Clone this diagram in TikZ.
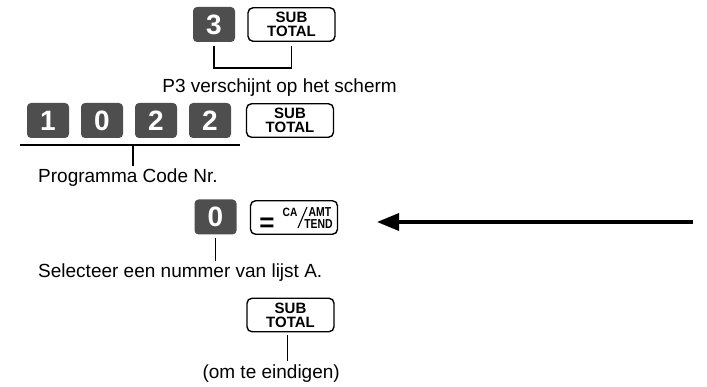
\documentclass[tikz,border=0pt]{standalone}
\usepackage{fontspec}
\setmainfont{Liberation Sans}
\usetikzlibrary{arrows.meta,calc}
\definecolor{keygray}{RGB}{78,78,78}
\begin{document}
\begin{tikzpicture}[x=1pt,y=-1pt,
  keybox/.style={fill=keygray, rounded corners=4pt, minimum width=42pt, minimum height=35pt, inner sep=0pt, text=white, font=\fontsize{28}{28}\selectfont\bfseries},
  whitekey/.style={draw, line width=1.4pt, rounded corners=5pt, minimum width=87pt, minimum height=33.5pt, inner sep=0pt, align=center, font=\fontsize{15}{14}\selectfont\bfseries},
  conn/.style={line width=1.2pt},
  lbl/.style={font=\fontsize{19}{22}\selectfont, inner sep=0pt},
  small/.style={inner sep=0pt, font=\fontsize{13}{13}\selectfont\bfseries}
]
\useasboundingbox (0,0) rectangle (707,387);
% Row 1
\node[keybox] (k3) at (214,24.5) {3};
\node[whitekey] (st1) at (291.5,24.5) {SUB\\TOTAL};
\coordinate (br1) at (214,68);
\draw[conn] ([yshift=-4pt]k3.south) -- (k3.south |- br1) -| ([yshift=-4pt]st1.south);
\node[lbl, anchor=base east] (t1) at (397,93) {P3 verschijnt op het scherm};
% Row 2
\node[keybox] (r1) at (48,120.5) {1};
\node[keybox] (r2) at (102,120.5) {0};
\node[keybox] (r3) at (156,120.5) {2};
\node[keybox] (r4) at (210,120.5) {2};
\node[whitekey] (st2) at (290,120.5) {SUB\\TOTAL};
\coordinate (la) at (20,145);
\coordinate (lb) at (240,145);
\coordinate (lm) at (133,145);
\draw[conn] (la) -- (lb);
\node[lbl, anchor=base west] (t2) at (38,183) {Programma Code Nr.};
\draw[conn] (lm) -- ([yshift=3pt]lm |- t2.north);
% Row 3
\node[keybox] (kz) at (215.5,217) {0};
\node[whitekey] (eq) at (294,217.5) {};
\node[inner sep=0pt, font=\fontsize{26}{26}\selectfont\bfseries] (eqs) at (267,225) {=};
\node[small] (ca) at (290,212.5) {\scalebox{0.85}[1]{\fontsize{12}{12}\selectfont CA}};
\node[small] (amt) at (320,212) {\scalebox{0.8}[1]{AMT}};
\node[small] (tend) at (318.5,224) {\scalebox{0.8}[1]{TEND}};
\coordinate (sl1) at (298,228);
\coordinate (sl2) at (307,207);
\draw[line width=1.1pt] (sl1) -- (sl2);
\node[lbl, anchor=base west] (t3) at (38,278) {Selecteer een nummer van lijst A.};
\draw[conn] ([yshift=-3pt]kz.south) -- ([yshift=3pt]kz.south |- t3.north);
\coordinate (ae) at (693,222);
\coordinate (at) at (377,222);
\draw[line width=3.5pt, -{Triangle[length=22pt,width=17pt]}] (ae) -- (at);
% Row 4
\node[whitekey] (st4) at (290.5,315) {SUB\\TOTAL};
\node[lbl, anchor=base east] (t4) at (340,378) {(om te eindigen)};
\draw[conn] ([xshift=-3pt,yshift=-3pt]st4.south) -- ([xshift=-3pt,yshift=3pt]st4.south |- t4.north);
\end{tikzpicture}
\end{document}
